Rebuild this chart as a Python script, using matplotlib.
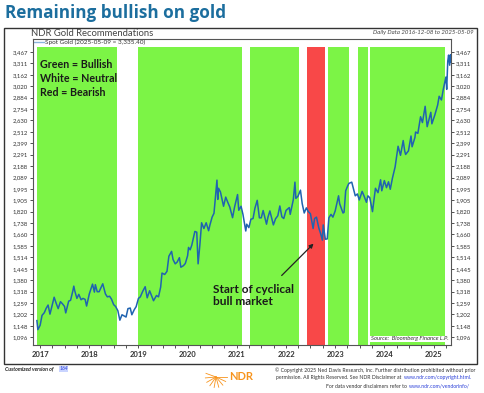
import math

import matplotlib
matplotlib.use("Agg")
import matplotlib.pyplot as plt
import matplotlib.dates as mdates
import matplotlib.ticker as mticker
from matplotlib.patches import Rectangle
from matplotlib.lines import Line2D
import pandas as pd

# ---- data -------------------------------------------------------------
gold_dates = [
    "2016-12-08", "2016-12-15", "2017-01-01", "2017-01-15", "2017-02-01", "2017-02-15",
    "2017-03-01", "2017-03-15", "2017-04-01", "2017-04-15", "2017-05-01", "2017-05-15",
    "2017-06-01", "2017-06-15", "2017-07-01", "2017-07-10", "2017-08-01", "2017-08-15",
    "2017-09-01", "2017-09-08", "2017-09-15", "2017-10-01", "2017-10-15", "2017-11-01",
    "2017-11-15", "2017-12-01", "2017-12-12", "2018-01-01", "2018-01-25", "2018-02-08",
    "2018-02-15", "2018-03-01", "2018-03-15", "2018-04-11", "2018-05-01", "2018-05-15",
    "2018-06-01", "2018-06-15", "2018-07-01", "2018-07-15", "2018-08-01", "2018-08-16",
    "2018-09-01", "2018-09-15", "2018-10-01", "2018-10-15", "2018-11-01", "2018-11-13",
    "2018-12-01", "2018-12-15", "2019-01-01", "2019-01-15", "2019-02-01", "2019-02-20",
    "2019-03-07", "2019-03-25", "2019-04-23", "2019-05-15", "2019-05-30", "2019-06-15",
    "2019-06-25", "2019-07-15", "2019-08-01", "2019-08-15", "2019-09-04", "2019-09-15",
    "2019-10-01", "2019-10-15", "2019-11-01", "2019-11-12", "2019-12-01", "2019-12-15",
    "2020-01-01", "2020-01-08", "2020-01-20", "2020-02-01", "2020-02-24", "2020-03-09",
    "2020-03-19", "2020-04-01", "2020-04-14", "2020-05-01", "2020-05-18", "2020-06-05",
    "2020-06-15", "2020-07-01", "2020-07-15", "2020-07-27", "2020-08-06", "2020-08-12",
    "2020-08-18", "2020-09-01", "2020-09-24", "2020-10-10", "2020-10-30", "2020-11-09",
    "2020-11-30", "2020-12-15", "2021-01-06", "2021-01-15", "2021-02-01", "2021-02-15",
    "2021-03-08", "2021-03-15", "2021-03-31", "2021-04-15", "2021-05-01", "2021-05-15",
    "2021-06-01", "2021-06-17", "2021-07-01", "2021-07-15", "2021-08-09", "2021-08-20",
    "2021-09-03", "2021-09-29", "2021-10-15", "2021-11-01", "2021-11-16", "2021-12-01",
    "2021-12-15", "2022-01-01", "2022-01-25", "2022-02-01", "2022-02-24", "2022-03-08",
    "2022-03-15", "2022-03-31", "2022-04-18", "2022-05-01", "2022-05-16", "2022-06-01",
    "2022-06-15", "2022-07-01", "2022-07-21", "2022-08-01", "2022-08-15", "2022-09-01",
    "2022-09-15", "2022-09-28", "2022-10-04", "2022-10-20", "2022-11-03", "2022-11-15",
    "2022-12-01", "2022-12-15", "2023-01-01", "2023-01-26", "2023-02-03", "2023-02-28",
    "2023-03-08", "2023-03-20", "2023-04-04", "2023-04-13", "2023-05-04", "2023-05-30",
    "2023-06-15", "2023-06-29", "2023-07-20", "2023-08-01", "2023-08-21", "2023-09-01",
    "2023-09-15", "2023-10-05", "2023-10-27", "2023-11-15", "2023-12-04", "2023-12-13",
    "2024-01-01", "2024-01-17", "2024-02-01", "2024-02-14", "2024-03-01", "2024-03-21",
    "2024-04-12", "2024-04-30", "2024-05-20", "2024-05-31", "2024-06-07", "2024-06-28",
    "2024-07-17", "2024-07-25", "2024-08-15", "2024-08-20", "2024-09-06", "2024-09-26",
    "2024-10-10", "2024-10-30", "2024-11-14", "2024-11-25", "2024-12-11", "2024-12-19",
    "2025-01-10", "2025-01-31", "2025-02-11", "2025-02-28", "2025-03-14", "2025-04-02",
    "2025-04-08", "2025-04-16", "2025-04-22", "2025-04-30", "2025-05-06", "2025-05-09",
]
gold_values = [
    1172, 1130, 1150, 1197, 1210, 1232,
    1248, 1203, 1249, 1288, 1255, 1230,
    1265, 1255, 1241, 1209, 1268, 1272,
    1322, 1347, 1322, 1282, 1303, 1275,
    1282, 1277, 1243, 1305, 1358, 1315,
    1355, 1317, 1317, 1360, 1305, 1290,
    1293, 1278, 1250, 1241, 1220, 1174,
    1200, 1195, 1189, 1230, 1233, 1200,
    1225, 1240, 1282, 1290, 1318, 1344,
    1285, 1322, 1270, 1297, 1290, 1342,
    1420, 1412, 1430, 1520, 1550, 1500,
    1474, 1484, 1511, 1454, 1463, 1476,
    1523, 1575, 1560, 1589, 1680, 1675,
    1474, 1590, 1740, 1700, 1740, 1685,
    1725, 1780, 1808, 1940, 2067, 1912,
    2000, 1970, 1860, 1930, 1878, 1855,
    1776, 1855, 1950, 1830, 1860, 1800,
    1683, 1730, 1706, 1765, 1770, 1845,
    1905, 1775, 1775, 1828, 1730, 1780,
    1825, 1725, 1768, 1790, 1862, 1782,
    1770, 1829, 1850, 1800, 1910, 2050,
    1920, 1937, 1985, 1880, 1810, 1848,
    1820, 1805, 1700, 1770, 1780, 1705,
    1665, 1622, 1725, 1628, 1630, 1775,
    1800, 1780, 1825, 1940, 1880, 1810,
    1815, 1980, 2020, 2040, 2050, 1940,
    1955, 1908, 1975, 1945, 1890, 1940,
    1925, 1820, 2000, 1965, 2070, 1980,
    2063, 2005, 2053, 1992, 2083, 2180,
    2370, 2285, 2425, 2327, 2293, 2326,
    2470, 2365, 2455, 2510, 2497, 2670,
    2608, 2785, 2565, 2625, 2718, 2595,
    2690, 2800, 2900, 2857, 2985, 3134,
    2982, 3343, 3425, 3288, 3430, 3335,
]

# recommendation regimes
regime_starts = ["2016-12-08", "2019-01-01", "2021-04-08", "2022-06-06", "2022-11-07", "2023-06-17", "2023-09-17"]
regime_ends = ["2018-07-26", "2021-02-06", "2022-04-05", "2022-10-16", "2023-04-12", "2023-09-02", "2025-03-25"]
regime_colors = ["#7cf446", "#7cf446", "#7cf446", "#f84848", "#7cf446", "#7cf446", "#7cf446"]

ytick_vals = [1096, 1148, 1202, 1259, 1318, 1380, 1445, 1514, 1585, 1660, 1738, 1820, 1905,
              1995, 2089, 2188, 2291, 2399, 2512, 2630, 2754, 2884, 3020, 3162, 3311, 3467]

W, H = 485, 393
FONT = "Lato"


def fxy(px, py):
    """pixel position (from top-left) -> figure fraction"""
    return px / W, 1 - py / H


fig = plt.figure(figsize=(W / 100, H / 100), dpi=100)
fig.patch.set_facecolor("white")

# outer frame
fig.patches.append(Rectangle(fxy(4, 364), 473 / W, 336 / H, transform=fig.transFigure,
                             fill=False, edgecolor="#333333", linewidth=1.0))

ax = fig.add_axes([33 / W, 1 - 345 / H, (451 - 33) / W, (345 - 39) / H])

dates = pd.to_datetime(gold_dates)
for s, e, c in zip(regime_starts, regime_ends, regime_colors):
    ax.axvspan(pd.Timestamp(s), pd.Timestamp(e), ymin=0, ymax=0.974, color=c, lw=0, zorder=1)

ax.plot(dates, gold_values, color="#2063b0", lw=1.1, zorder=3)

ax.set_yscale("log")
ax.set_ylim(1062, 3655)
ax.set_xlim(pd.Timestamp("2016-11-09"), pd.Timestamp("2025-05-10"))
ax.yaxis.set_major_locator(mticker.FixedLocator(ytick_vals))
ax.yaxis.set_major_formatter(mticker.FuncFormatter(lambda v, p: f"{v:,.0f}"))
ax.yaxis.set_minor_locator(mticker.NullLocator())
ax.tick_params(axis="y", which="major", labelsize=4.3, length=2, width=0.6,
               colors="#333333", right=True, labelright=True, pad=1.5)
for lab in ax.get_yticklabels():
    lab.set_fontfamily(FONT)

ax.xaxis.set_major_locator(mdates.YearLocator())
ax.xaxis.set_major_formatter(mdates.DateFormatter("%Y"))
ax.xaxis.set_minor_locator(mdates.MonthLocator(bymonth=[4, 7, 10]))
ax.tick_params(axis="x", which="major", labelsize=5.5, length=2.5, width=0.6, colors="#333333", pad=2)
ax.tick_params(axis="x", which="minor", length=2, width=0.6, colors="#333333")
for lab in ax.get_xticklabels():
    lab.set_fontfamily(FONT)
    lab.set_fontweight("bold")

for sp in ax.spines.values():
    sp.set_color("#555555")
    sp.set_linewidth(0.8)

# legend entry
ax.add_line(Line2D([0.003, 0.026], [0.99, 0.99], transform=ax.transAxes, color="#8ab4dc", lw=1.0))
ax.text(0.029, 0.99, "Spot Gold (2025-05-09 = 3,335.40)", transform=ax.transAxes,
        fontsize=4.6, family=FONT, color="#333333", va="center", ha="left")

# source tag
ax.text(0.995, 0.012, "Source:  Bloomberg Finance L.P.", transform=ax.transAxes,
        fontsize=4.2, family=FONT, style="italic", color="#333333", ha="right", va="bottom",
        bbox=dict(facecolor="white", edgecolor="none", pad=0.6), zorder=5)

# annotation
ax.annotate("", xy=(pd.Timestamp("2022-08-08"), 1612), xytext=(pd.Timestamp("2021-11-15"), 1395),
            arrowprops=dict(arrowstyle="-|>", color="#222222", lw=0.9, mutation_scale=6), zorder=6)
ax.text(pd.Timestamp("2020-07-08"), 1297, "Start of cyclical\nbull market", fontsize=8.6,
        family=FONT, fontweight="bold", color="#1a1a1a", ha="left", va="center",
        linespacing=1.05, zorder=6)

# legend of colours
for i, s in enumerate(["Green = Bullish", "White = Neutral", "Red = Bearish"]):
    fig.text(*fxy(40, 65 + 13.5 * i), s, fontsize=7.7, family=FONT, fontweight="bold",
             color="#1a1a1a", ha="left", va="center")

# titles
fig.text(*fxy(5, 13), "Remaining bullish on gold", fontsize=12.3, family="Open Sans",
         fontweight="bold", color="#1c6e9e", ha="left", va="center")
fig.text(*fxy(31, 33), "NDR Gold Recommendations", fontsize=6.8, family=FONT,
         color="#444444", ha="left", va="center")
fig.text(*fxy(474, 32), "Daily Data 2016-12-08 to 2025-05-09", fontsize=4.3, family=FONT,
         style="italic", color="#444444", ha="right", va="center")

# footer
fig.text(*fxy(5, 369), "Customized version of", fontsize=3.8, family=FONT, style="italic",
         fontweight="bold", color="#222222", ha="left", va="center")
fig.text(*fxy(59, 369), "164", fontsize=3.8, family=FONT, style="italic", color="#2a3fd8",
         ha="left", va="center", bbox=dict(facecolor="#c9d4ff", edgecolor="none", pad=0.3))

# NDR logo
cx, cy = fxy(216, 377)
for k in range(9):
    a = math.radians(-200 + k * 25)
    fig.lines.append(Line2D([cx, cx + 0.022 * math.cos(a)], [cy, cy + 0.027 * math.sin(a)],
                            transform=fig.transFigure, color="#f7941d", lw=0.6))
fig.text(*fxy(229, 377), "NDR", fontsize=8, family=FONT, fontweight="bold", color="#f7941d",
         ha="left", va="center")

fs_c = 3.7
fig.text(*fxy(475, 370), "\u00a9 Copyright 2025 Ned Davis Research, Inc. Further distribution prohibited without prior",
         fontsize=fs_c, family=FONT, color="#333333", ha="right", va="center")
fig.text(*fxy(403, 378), "permission. All Rights Reserved. See NDR Disclaimer at ",
         fontsize=fs_c, family=FONT, color="#333333", ha="right", va="center")
fig.text(*fxy(404, 378), "www.ndr.com/copyright.html.", fontsize=fs_c, family=FONT,
         color="#2a3fd8", ha="left", va="center")
fig.text(*fxy(408, 386), "For data vendor disclaimers refer to ",
         fontsize=fs_c, family=FONT, color="#333333", ha="right", va="center")
fig.text(*fxy(409, 386), "www.ndr.com/vendorinfo/", fontsize=fs_c, family=FONT,
         color="#2a3fd8", ha="left", va="center")

fig.savefig("out.png", dpi=100)
